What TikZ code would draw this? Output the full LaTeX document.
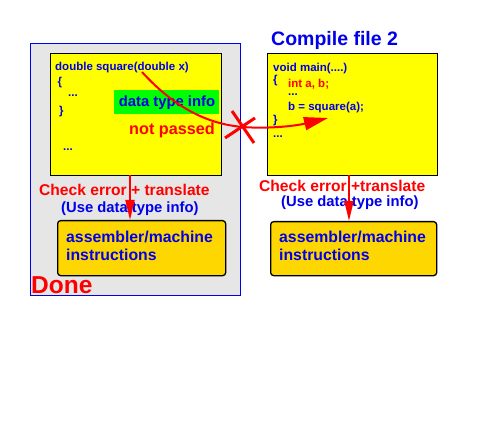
\documentclass[tikz,border=0pt]{standalone}
\usepackage{fontspec}
\setmainfont{Liberation Sans}
\usetikzlibrary{arrows.meta}
\definecolor{panelgray}{RGB}{230,230,230}
\definecolor{codeyellow}{RGB}{255,255,0}
\definecolor{boxgold}{RGB}{255,215,0}
\definecolor{tblue}{RGB}{0,0,235}
\definecolor{tred}{RGB}{255,0,0}
\definecolor{tgreen}{RGB}{0,255,0}
\tikzset{
  panel/.style={draw=tblue, fill=panelgray, line width=1pt, anchor=north west, inner sep=0pt},
  codebox/.style={draw=black, fill=codeyellow, line width=1.3pt, anchor=north west, inner sep=0pt},
  asmbox/.style={draw=black, fill=boxgold, line width=1.3pt, rounded corners=3pt, anchor=north west, inner sep=0pt},
  code/.style={anchor=base west, inner sep=0pt, text=tblue, font=\fontsize{11.5}{13}\selectfont\bfseries},
  redcode/.style={code, text=tred},
  label/.style={anchor=base west, inner sep=0pt, font=\fontsize{15.6}{18}\selectfont\bfseries},
  sublabel/.style={anchor=base west, inner sep=0pt, text=tblue, font=\fontsize{14.8}{17}\selectfont\bfseries},
  asmtext/.style={anchor=base west, inner sep=0pt, text=tblue, font=\fontsize{15.8}{18}\selectfont\bfseries},
  flow/.style={draw=tred, line width=2pt, -{Triangle[length=20pt,width=9pt]}},
  pass/.style={draw=tred, line width=2pt, -{Triangle[length=24pt,width=13pt]}},
  cross/.style={draw=tred, line width=3pt}
}
\begin{document}
\begin{tikzpicture}[x=1pt,y=-1pt]
\useasboundingbox (0,0) rectangle (491,428);
% left panel
\node[panel, minimum width=210pt, minimum height=252pt] (panel) at (30,43) {};
\node[codebox, minimum width=171pt, minimum height=122pt] (ybl) at (50,53) {};
\node[anchor=north west, inner sep=0pt, fill=tgreen, minimum width=105pt, minimum height=24pt] (green) at (114,90) {};
\node[anchor=base, inner sep=0pt, text=tblue, font=\fontsize{14.8}{17}\selectfont\bfseries] (dti) at (167,107) {data type info};
\node[code] (c1) at (55,70.7) {double square(double x)};
\node[code] (c2) at (57.5,86) {\{};
\node[code] (c3) at (68,97) {...};
\node[code] (c4) at (59,115) {\}};
\node[code] (c5) at (63,150) {...};
\node[anchor=base, inner sep=0pt, text=tred, font=\fontsize{16.2}{18}\selectfont\bfseries] (np) at (172,135) {not passed};
% right
\node[anchor=base west, inner sep=0pt, text=tblue, font=\fontsize{19.5}{22}\selectfont\bfseries] (title) at (271,45.7) {Compile file 2};
\node[codebox, minimum width=170pt, minimum height=122pt] (ybr) at (267,53) {};
\node[code] (d1) at (273,71.7) {void main(....)};
\node[code] (d2) at (273,84) {\{};
\node[redcode] (d3) at (288,87.7) {int a, b;};
\node[code] (d4) at (288,95.5) {...};
\node[code] (d5) at (288,111) {b = square(a);};
\node[code] (d6) at (273,124) {\}};
\node[code] (d7) at (273,138) {...};
% lower left
\node[label, text=tred] (ce1) at (39,195.7) {Check error + translate};
\node[sublabel] (ud1) at (61,212) {(Use data type info)};
\node[asmbox, minimum width=168pt, minimum height=55pt] (asm1) at (57,220) {};
\node[asmtext] (at1) at (66,242.7) {assembler/machine};
\node[asmtext] (at1b) at (66,260) {instructions};
\node[anchor=base west, inner sep=0pt, text=tred, font=\fontsize{24.5}{28}\selectfont\bfseries] (done) at (31,294) {Done};
% lower right
\node[label, text=tred] (ce2) at (259,192) {Check error +translate};
\node[sublabel] (ud2) at (281,206.7) {(Use data type info)};
\node[asmbox, minimum width=166pt, minimum height=54pt] (asm2) at (270,221) {};
\node[asmtext] (at2) at (279,242.7) {assembler/machine};
\node[asmtext] (at2b) at (279,260) {instructions};
% connectors
\coordinate (s1) at (130,175);
\coordinate (e1) at (130,220);
\coordinate (s2) at (349,175);
\coordinate (e2) at (349,221);
\draw[flow] (s1) -- (e1);
\draw[flow] (s2) -- (e2);
\coordinate (cs) at (142,72);
\coordinate (cx) at (243,127);
\coordinate (ct) at (328,118);
\draw[pass] (cs) .. controls (172,105) and (205,124) .. (cx) .. controls (268,129) and (295,126) .. (ct);
\coordinate (x1a) at (232,111);
\coordinate (x1b) at (254,143);
\coordinate (x2a) at (225,138);
\coordinate (x2b) at (255,118);
\draw[cross] (x1a) -- (x1b);
\draw[cross] (x2a) -- (x2b);
\end{tikzpicture}
\end{document}
